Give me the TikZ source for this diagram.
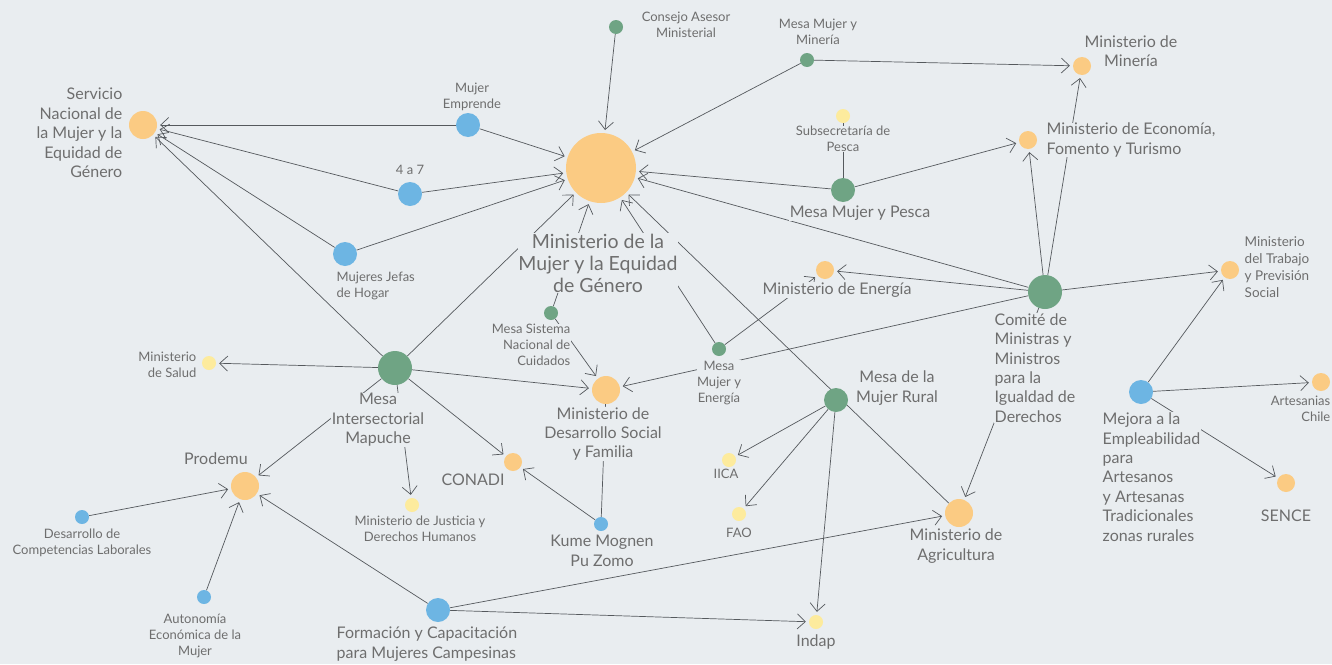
\documentclass[tikz,border=0pt]{standalone}
\usepackage{fontspec}
\setmainfont{Lato}
\usetikzlibrary{arrows.meta}
\definecolor{bgc}{HTML}{E9EDF0}
\definecolor{cora}{HTML}{FBCB83}
\definecolor{cgre}{HTML}{6FA484}
\definecolor{cblu}{HTML}{6DB5E3}
\definecolor{cyel}{HTML}{FDEB9D}
\definecolor{ctxt}{HTML}{6E6E6E}
\definecolor{clin}{HTML}{55595D}
\pgfdeclarelayer{edges}
\pgfdeclarelayer{labels}
\pgfsetlayers{edges,labels,main}

\begin{document}
\begin{tikzpicture}
  [x=1pt,y=-1pt,
   dot/.style={circle,inner sep=0pt,minimum size=#1},
   lab/.style={text=ctxt,fill=bgc,inner sep=0.5pt,align=center,font=\fontsize{16}{19.4}\selectfont},
   sml/.style={lab,font=\fontsize{13}{16.2}\selectfont},
   big/.style={lab,font=\fontsize{19.5}{22}\selectfont},
   link/.style={draw=clin,line width=0.7pt,shorten >=3pt},
   arr/.style={link,-{Straight Barb[length=8pt,width=15pt]}}]
  \useasboundingbox (0,0) rectangle (1332,664);

  % organismos
  \node[dot=70,fill=cora] (nmujer) at (601,168) {};
  \node[dot=28,fill=cora] (nsernam) at (143,125) {};
  \node[dot=18,fill=cora] (nminmin) at (1082,66) {};
  \node[dot=18,fill=cora] (neco) at (1028,140) {};
  \node[dot=18,fill=cora] (nenergia) at (825,270) {};
  \node[dot=18,fill=cora] (ntrabajo) at (1230,270) {};
  \node[dot=18,fill=cora] (nartes) at (1321,382) {};
  \node[dot=18,fill=cora] (nsence) at (1286,483) {};
  \node[dot=28,fill=cora] (nagri) at (959,513) {};
  \node[dot=28,fill=cora] (ndesarrollo) at (606,390) {};
  \node[dot=18,fill=cora] (nconadi) at (513,462) {};
  \node[dot=28,fill=cora] (nprodemu) at (245,486) {};
  \node[dot=14,fill=cyel] (nsubpesca) at (843,116) {};
  \node[dot=14,fill=cyel] (niica) at (729,460) {};
  \node[dot=14,fill=cyel] (nfao) at (739,514) {};
  \node[dot=14,fill=cyel] (nindap) at (816,622) {};
  \node[dot=14,fill=cyel] (nsalud) at (209,363) {};
  \node[dot=14,fill=cyel] (njusticia) at (412,505) {};
  % mesas
  \node[dot=14,fill=cgre] (nconsejo) at (616,27) {};
  \node[dot=14,fill=cgre] (nmesamin) at (807,60) {};
  \node[dot=24,fill=cgre] (npesca) at (843,190) {};
  \node[dot=34,fill=cgre] (ncomite) at (1045,292) {};
  \node[dot=24,fill=cgre] (nrural) at (836,400) {};
  \node[dot=14,fill=cgre] (nmesaen) at (719,349) {};
  \node[dot=14,fill=cgre] (ncuidados) at (551,313) {};
  \node[dot=34,fill=cgre] (nmapuche) at (395,368) {};
  % programas
  \node[dot=24,fill=cblu] (nemprende) at (468,125) {};
  \node[dot=24,fill=cblu] (n4a7) at (410,194) {};
  \node[dot=24,fill=cblu] (njefas) at (345,254) {};
  \node[dot=24,fill=cblu] (nmejora) at (1141,392) {};
  \node[dot=14,fill=cblu] (nkume) at (601,524) {};
  \node[dot=14,fill=cblu] (ncompet) at (82,517) {};
  \node[dot=14,fill=cblu] (nauton) at (204,597) {};
  \node[dot=24,fill=cblu] (nformacion) at (438,610) {};

  % conexiones
  \begin{pgfonlayer}{edges}
  \fill[bgc] (0,0) rectangle (1332,664);
  \foreach \from/\to in {nemprende/nmujer,nemprende/nsernam,n4a7/nmujer,n4a7/nsernam,
      njefas/nmujer,njefas/nsernam,nconsejo/nmujer,nmesamin/nmujer,nmesamin/nminmin,
      npesca/nmujer,npesca/neco,ncomite/nmujer,ncomite/neco,ncomite/nminmin,
      ncomite/nenergia,ncomite/ntrabajo,ncomite/ndesarrollo,ncomite/nagri,
      nmesaen/nmujer,nmesaen/nenergia,nagri/nmujer,nrural/niica,nrural/nfao,nrural/nindap,
      ncuidados/nmujer,ncuidados/ndesarrollo,nmapuche/nmujer,nmapuche/nsernam,
      nmapuche/nsalud,nmapuche/nprodemu,nmapuche/njusticia,nmapuche/nconadi,
      nmapuche/ndesarrollo,nkume/nconadi,ncompet/nprodemu,nauton/nprodemu,
      nformacion/nprodemu,nformacion/nagri,nformacion/nindap,
      nmejora/ntrabajo,nmejora/nartes,nmejora/nsence}
    \draw[arr] (\from) -- (\to);
  \foreach \from/\to in {npesca/nsubpesca,nkume/ndesarrollo}
    \draw[link,shorten >=0pt] (\from) -- (\to);
  \end{pgfonlayer}

  % etiquetas
  \begin{pgfonlayer}{labels}
  \node[big] (lmujer) at (598,263) {Ministerio de la\\Mujer y la Equidad\\de Género};
  \node[lab,anchor=east,align=right] (lsernam) at (123,133) {Servicio\\Nacional de\\la Mujer y la\\Equidad de\\Género};
  \node[sml] (lemprende) at (472,97) {Mujer\\Emprende};
  \node[sml] (l4a7) at (410,170) {4 a 7};
  \node[sml,anchor=west,align=left] (ljefas) at (336,286) {Mujeres Jefas\\de Hogar};
  \node[sml] (lconsejo) at (686,25) {Consejo Asesor\\Ministerial};
  \node[sml] (lmesamin) at (818,32) {Mesa Mujer y\\Minería};
  \node[sml] (lsubpesca) at (843,139) {Subsecretaría de\\Pesca};
  \node[lab] (lpesca) at (860,213) {Mesa Mujer y Pesca};
  \node[lab] (lminmin) at (1131,51) {Ministerio de\\Minería};
  \node[lab,anchor=west,align=left] (leco) at (1046,140) {Ministerio de Economía,\\Fomento y Turismo};
  \node[lab] (lenergia) at (837,290) {Ministerio de Energía};
  \node[lab,anchor=west,align=left] (lcomite) at (994,368) {Comité de\\Ministras y\\Ministros\\para la\\Igualdad de\\Derechos};
  \node[lab,anchor=west,align=left,font=\fontsize{13.5}{17}\selectfont] (ltrabajo) at (1244,267) {Ministerio\\del Trabajo\\y Previsión\\Social};
  \node[lab,anchor=west,align=left] (lmejora) at (1102,477) {Mejora a la\\Empleabilidad\\para\\Artesanos\\y Artesanas\\Tradicionales\\zonas rurales};
  \node[sml,anchor=east,align=right] (lartes) at (1331,409) {Artesanias\\Chile};
  \node[lab] (lsence) at (1286,516) {SENCE};
  \node[lab] (lrural) at (897,388) {Mesa de la\\Mujer Rural};
  \node[sml] (liica) at (726,474) {IICA};
  \node[sml] (lfao) at (739,533) {FAO};
  \node[lab] (lindap) at (816,642) {Indap};
  \node[lab] (lagri) at (956,546) {Ministerio de\\Agricultura};
  \node[sml] (lmesaen) at (719,383) {Mesa\\Mujer y\\Energía};
  \node[sml,anchor=east,align=right] (lcuidados) at (571,345) {Mesa Sistema\\Nacional de\\Cuidados};
  \node[lab] (ldesarrollo) at (603,434) {Ministerio de\\Desarrollo Social\\y Familia};
  \node[lab] (lmapuche) at (378,420) {Mesa\\Intersectorial\\Mapuche};
  \node[sml,anchor=east,align=right] (lsalud) at (197,365) {Ministerio\\de Salud};
  \node[lab] (lconadi) at (473,480) {CONADI};
  \node[sml] (ljusticia) at (420,529) {Ministerio de Justicia y\\Derechos Humanos};
  \node[lab] (lkume) at (602,551) {Kume Mognen\\Pu Zomo};
  \node[lab] (lprodemu) at (216,459) {Prodemu};
  \node[sml] (lcompet) at (82,543) {Desarrollo de\\Competencias Laborales};
  \node[sml] (lauton) at (195,636) {Autonomía\\Económica de la\\Mujer};
  \node[lab,anchor=west,align=left] (lformacion) at (336,644) {Formación y Capacitación\\para Mujeres Campesinas};
  \end{pgfonlayer}
\end{tikzpicture}
\end{document}
